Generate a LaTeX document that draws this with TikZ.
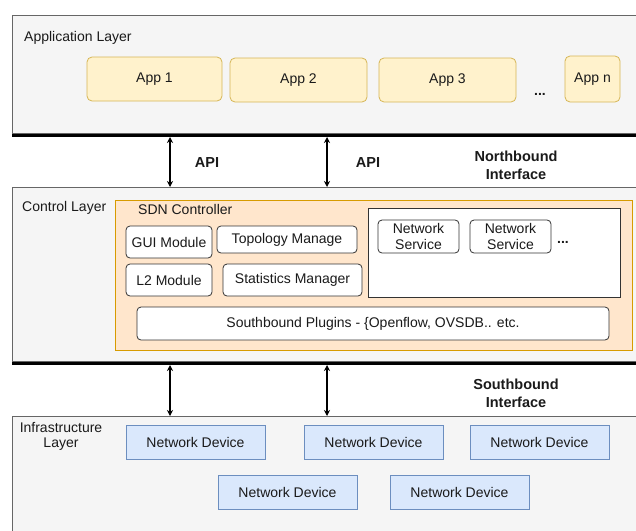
\documentclass[tikz,border=0pt]{standalone}
\usepackage{fontspec}
\setmainfont{Liberation Sans}
\usetikzlibrary{arrows.meta}
\definecolor{layerfill}{HTML}{F5F5F5}
\definecolor{layerdraw}{HTML}{666666}
\definecolor{appfill}{HTML}{FFF2CC}
\definecolor{appdraw}{HTML}{D6B656}
\definecolor{sdnfill}{HTML}{FFE6CC}
\definecolor{sdndraw}{HTML}{D79B00}
\definecolor{devfill}{HTML}{DAE8FC}
\definecolor{devdraw}{HTML}{6C8EBF}
\definecolor{modfill}{HTML}{FFFFFF}
\definecolor{moddraw}{HTML}{333333}
\definecolor{txt}{HTML}{1A1A1A}
\begin{document}
\begin{tikzpicture}[x=1pt,y=-1pt,
  every node/.style={font=\fontsize{14}{16}\selectfont, text=txt, inner sep=0pt},
  layer/.style={draw=layerdraw, fill=layerfill, line width=0.8pt, anchor=north west},
  appbox/.style={draw=appdraw, fill=appfill, rounded corners=5pt, line width=0.8pt},
  sdnbox/.style={draw=sdndraw, fill=sdnfill, line width=0.8pt, anchor=north west},
  modbox/.style={draw=moddraw, fill=modfill, rounded corners=4pt, line width=0.8pt},
  groupbox/.style={draw=moddraw, fill=white, line width=0.8pt},
  devbox/.style={draw=devdraw, fill=devfill, line width=0.8pt},
  busline/.style={line width=3pt, black},
  iface/.style={{Stealth[length=6pt,width=6pt]}-{Stealth[length=6pt,width=6pt]}, line width=1.4pt},
  boldlabel/.style={font=\fontsize{14.5}{18}\selectfont\bfseries, align=center},
  plain/.style={font=\fontsize{14}{16}\selectfont}
]
\useasboundingbox (0,0) rectangle (636,530);

% Application layer
\node[layer, minimum width=630, minimum height=118] (applayer) at (12,15) {};
\node[plain, anchor=west] (applabel) at (24,38) {Application Layer};
\node[appbox, minimum width=135, minimum height=44] (app1) at (154.5,79) {App 1};
\node[appbox, minimum width=137, minimum height=44] (app2) at (298.5,80) {App 2};
\node[appbox, minimum width=137, minimum height=44] (app3) at (447.5,80) {App 3};
\node[plain] (appdots) at (540,94) {\textbf{...}};
\node[appbox, minimum width=55, minimum height=46] (appn) at (592.5,79) {App n};

% northbound bus
\coordinate (nbl) at (12,135);
\coordinate (nbr) at (642,135);
\draw[busline] (nbl) -- (nbr);

% Control layer
\node[layer, minimum width=630, minimum height=174] (ctrllayer) at (12,187) {};
\node[plain, anchor=west] (ctrllabel) at (22,208) {Control Layer};
\node[sdnbox, minimum width=517, minimum height=150] (sdn) at (115,200) {};
\node[plain, anchor=west] (sdnlabel) at (138,209) {SDN Controller};
\node[modbox, minimum width=86, minimum height=32] (gui) at (169,242) {GUI Module};
\node[modbox, minimum width=140, minimum height=27] (topo) at (287,239.5) {Topology Manage};
\node[modbox, minimum width=86, minimum height=32] (l2) at (169,280) {L2 Module};
\node[modbox, minimum width=139, minimum height=32] (stats) at (292.5,280) {Statistics Manager};
\node[groupbox, minimum width=252, minimum height=89] (svcgroup) at (494,252.5) {};
\node[modbox, minimum width=81, minimum height=33, align=center, font=\fontsize{14}{15.5}\selectfont] (ns1) at (418.5,236.5) {Network\\Service};
\node[modbox, minimum width=81, minimum height=33, align=center, font=\fontsize{14}{15.5}\selectfont] (ns2) at (510.5,236.5) {Network\\Service};
\node[plain] (nsdots) at (563,242) {\textbf{...}};
\node[modbox, minimum width=472, minimum height=33] (plugins) at (373,323.5) {Southbound Plugins - \{Openflow, OVSDB.. etc.};

% southbound bus
\coordinate (sbl) at (12,363);
\coordinate (sbr) at (642,363);
\draw[busline] (sbl) -- (sbr);

% Infrastructure layer
\node[layer, minimum width=630, minimum height=120] (infralayer) at (12,416) {};
\node[plain, align=center, font=\fontsize{14}{15}\selectfont] (infralabel) at (61,436) {Infrastructure\\Layer};
\node[devbox, minimum width=139, minimum height=34] (nd1) at (195.5,442) {Network Device};
\node[devbox, minimum width=139, minimum height=34] (nd2) at (373.5,442) {Network Device};
\node[devbox, minimum width=139, minimum height=34] (nd3) at (539.5,442) {Network Device};
\node[devbox, minimum width=139, minimum height=34] (nd4) at (287.5,492) {Network Device};
\node[devbox, minimum width=139, minimum height=34] (nd5) at (459.5,492) {Network Device};

% interface arrows
\coordinate (na1) at (170,137);
\coordinate (nb1) at (170,187);
\coordinate (na2) at (327,137);
\coordinate (nb2) at (327,187);
\draw[iface] (na1) -- (nb1);
\draw[iface] (na2) -- (nb2);
\coordinate (sa1) at (170,365);
\coordinate (sb1) at (170,416);
\coordinate (sa2) at (327,365);
\coordinate (sb2) at (327,416);
\draw[iface] (sa1) -- (sb1);
\draw[iface] (sa2) -- (sb2);

\node[boldlabel] (api1) at (207,163) {API};
\node[boldlabel] (api2) at (368,163) {API};
\node[boldlabel] (nbif) at (516,165) {Northbound\\Interface};
\node[boldlabel] (sbif) at (516,393) {Southbound\\Interface};
\end{tikzpicture}
\end{document}
